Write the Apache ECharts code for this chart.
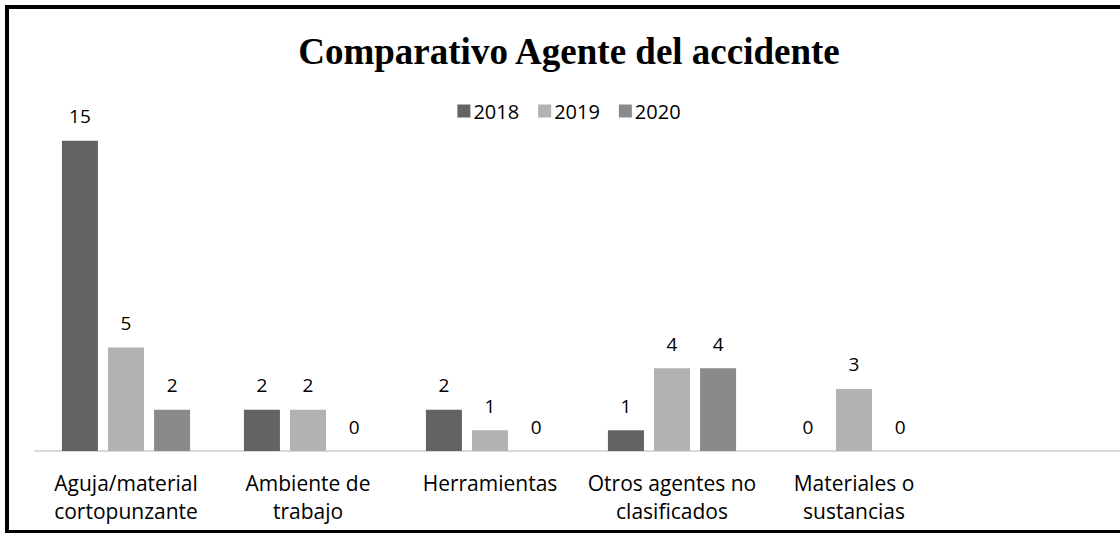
<!DOCTYPE html>
<html>
<head>
<meta charset="utf-8">
<script src="https://cdn.jsdelivr.net/npm/echarts@6/dist/echarts.min.js"></script>
<style>
  html, body { margin: 0; padding: 0; background: #fff; overflow: hidden; }
  #frame {
    position: absolute; left: 5px; top: 5px; width: 1200px; height: 521px;
    border-left: 4px solid #000; border-top: 4px solid #000; border-bottom: 4px solid #000;
    box-sizing: content-box;
  }
  #chart { position: absolute; left: 0; top: 0; width: 1138px; height: 533px; }
</style>
</head>
<body>
<div id="frame"></div>
<div id="chart"></div>
<script>
(function() {
  var categories = ['Aguja/material\ncortopunzante', 'Ambiente de\ntrabajo', 'Herramientas',
                    'Otros agentes no\nclasificados', 'Materiales o\nsustancias', ''];
  var years = ['2018', '2019', '2020'];
  var values2018 = [15, 2, 2, 1, 0, null];
  var values2019 = [5, 2, 1, 4, 3, null];
  var values2020 = [2, 0, 0, 4, 0, null];
  var colors = ['#636363', '#b2b2b2', '#8a8a8a'];

  var font = '"Open Sans", Lato, sans-serif';

  function makeSeries(name, data, color) {
    return {
      name: name,
      type: 'bar',
      data: data,
      barWidth: 36,
      barGap: '28%',
      itemStyle: { color: color },
      label: {
        show: true,
        position: 'top',
        distance: 15,
        color: '#000',
        fontFamily: font,
        fontSize: 19
      }
    };
  }

  var chart = echarts.init(document.getElementById('chart'), null, { renderer: 'svg' });
  chart.setOption({
    animation: false,
    title: {
      text: 'Comparativo Agente del accidente',
      left: 'center',
      top: 28,
      textStyle: {
        fontFamily: '"Liberation Serif", "Times New Roman", serif',
        fontWeight: 'bold',
        fontSize: 37,
        color: '#000'
      }
    },
    legend: {
      data: years,
      left: 'center',
      top: 96,
      icon: 'rect',
      itemWidth: 13,
      itemHeight: 13,
      itemGap: 19,
      textStyle: { fontFamily: font, fontSize: 20, color: '#000', padding: [0, 0, 0, -2] }
    },
    grid: { left: 35, right: 11, top: 120, bottom: 82 },
    xAxis: {
      type: 'category',
      data: categories,
      axisLine: { lineStyle: { color: '#d9d9d9', width: 2 } },
      axisTick: { show: false },
      axisLabel: {
        interval: 0,
        margin: 18,
        color: '#000',
        fontFamily: font,
        fontSize: 21,
        lineHeight: 28
      }
    },
    yAxis: {
      type: 'value',
      min: 0,
      max: 16,
      show: false
    },
    series: [
      makeSeries(years[0], values2018, colors[0]),
      makeSeries(years[1], values2019, colors[1]),
      makeSeries(years[2], values2020, colors[2])
    ]
  });
  window.addEventListener('resize', function() { chart.resize(); });
})();
</script>
</body>
</html>
